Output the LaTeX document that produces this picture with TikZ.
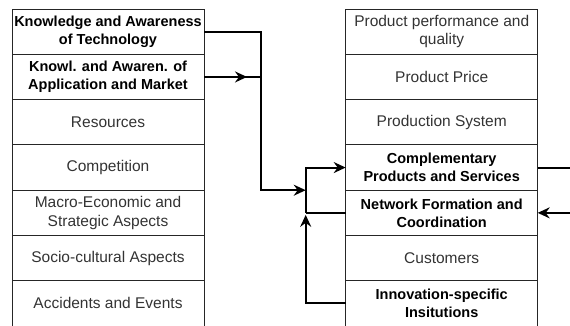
\documentclass[tikz,border=0pt]{standalone}
\usepackage{fontspec}
\setmainfont{Liberation Sans}
\usetikzlibrary{arrows.meta, positioning}

\begin{document}
\begin{tikzpicture}[x=1pt, y=-1pt, node distance=0pt,
   factor/.style={rectangle, draw=black!85, line width=0.9pt, outer sep=0pt,
      minimum width=192pt, minimum height=45.3pt, inner sep=1pt, align=center,
      text=black!80, font=\fontsize{15.5}{18.5}\selectfont},
   key/.style={factor, text=black, font=\fontsize{14.5}{18}\selectfont\bfseries},
   link/.style={line width=2pt},
   flow/.style={link, -{Stealth[length=12pt, width=11pt, inset=4pt]}}]
   \path[use as bounding box, clip] (0,0) rectangle (570,325);

   % left column
   \node[key, anchor=north west] (l1) at (12,9) {Knowledge and Awareness\\of Technology};
   \node[key]    (l2) [below=of l1] {Knowl. and Awaren. of\\Application and Market};
   \node[factor] (l3) [below=of l2] {Resources};
   \node[factor] (l4) [below=of l3] {Competition};
   \node[factor] (l5) [below=of l4] {Macro-Economic and\\Strategic Aspects};
   \node[factor] (l6) [below=of l5] {Socio-cultural Aspects};
   \node[factor] (l7) [below=of l6] {Accidents and Events};

   % right column
   \node[factor, anchor=north west] (r1) at (345.7,9) {Product performance and\\quality};
   \node[factor] (r2) [below=of r1] {Product Price};
   \node[factor] (r3) [below=of r2] {Production System};
   \node[key]    (r4) [below=of r3] {Complementary\\Products and Services};
   \node[key]    (r5) [below=of r4] {Network Formation and\\Coordination};
   \node[factor] (r6) [below=of r5] {Customers};
   \node[key]    (r7) [below=of r6] {Innovation-specific\\Insitutions};

   % junctions
   \coordinate [right=56.5pt of l1.east] (drop);
   \coordinate [left=40pt of r4.west] (bus4);
   \coordinate [left=40pt of r5.west] (bus5);
   \coordinate [left=40pt of r7.west] (bus7);
   \coordinate (rim) at (570,0);

   \draw[flow] (l1.east) -- (drop) |- (bus4 |- r4.south);
   \draw[link] (l2.east) -- (l2.east -| drop);
   \draw[flow] (l2.east) -- ++(43,0);
   \draw[flow] (bus5) -- (bus4) -- (r4.west);
   \draw[link] (r5.west) -- (bus5);
   \draw[flow, shorten >=2pt] (r7.west) -- (bus7) -- (bus5);
   \draw[link] (r4.east) -- (r4.east -| rim);
   \draw[flow] (r5.east -| rim) -- (r5.east);
\end{tikzpicture}
\end{document}
